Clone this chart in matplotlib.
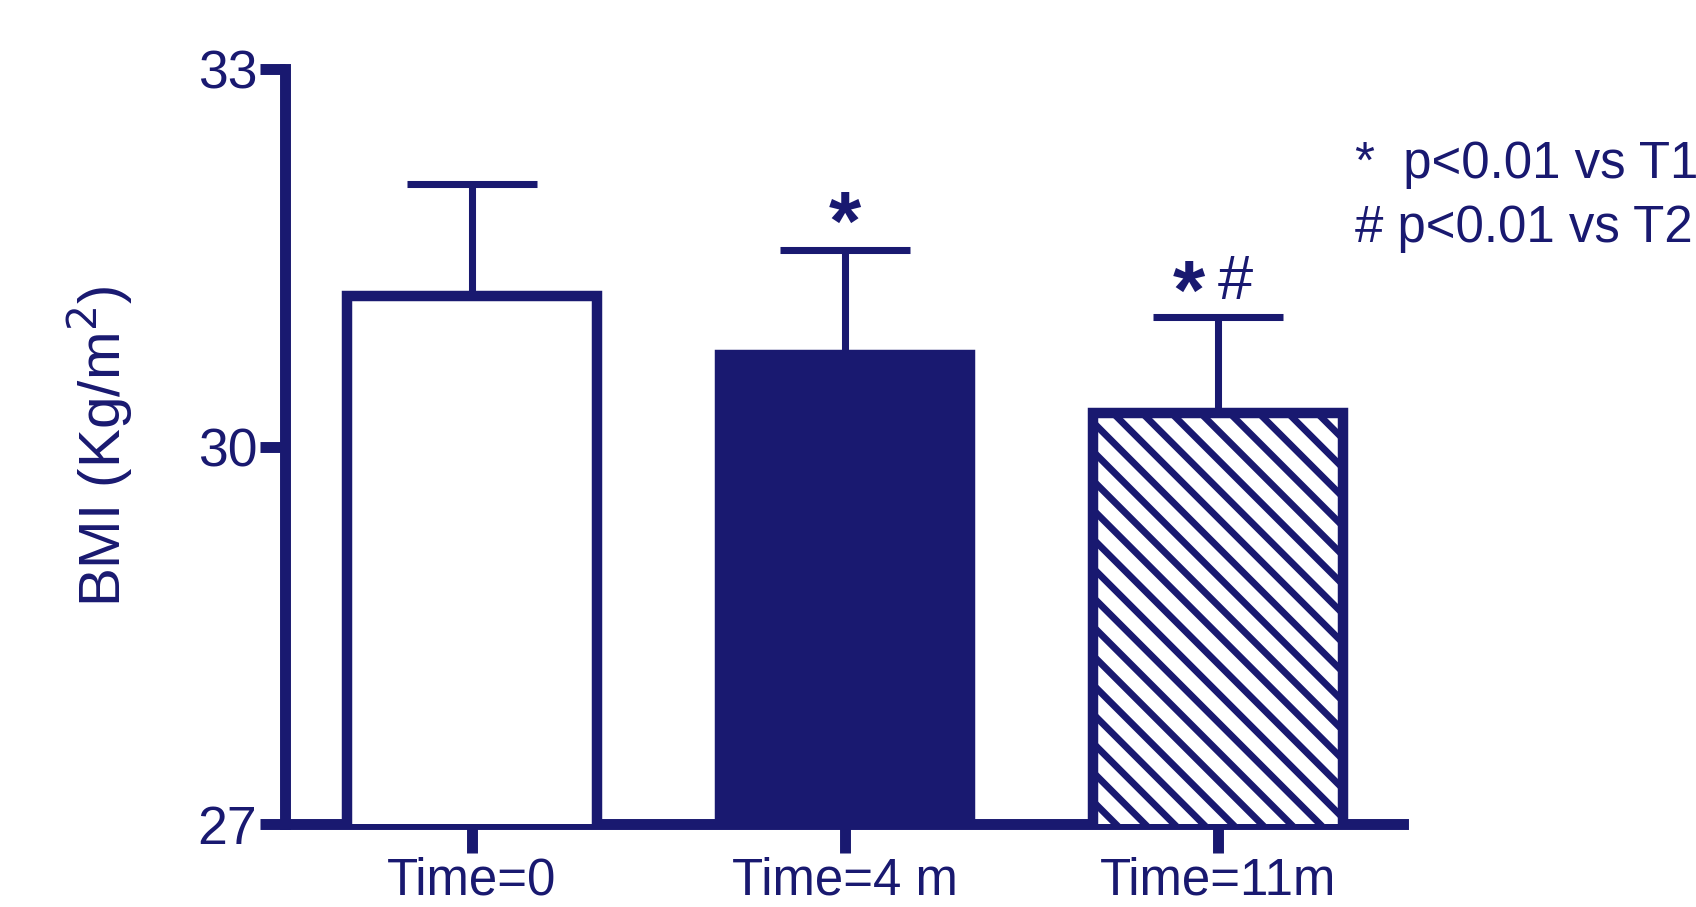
import matplotlib
matplotlib.use("Agg")
import matplotlib.pyplot as plt

# BMI over follow-up, mean + SEM
groups = ["Time=0", "Time=4 m", "Time=11m"]
bmi_mean = [31.20, 30.73, 30.27]
bmi_sem = [0.89, 0.83, 0.76]
marks = [("", ""), ("*", ""), ("*", "#")]
note_lines = ["*  p<0.01 vs T1", "# p<0.01 vs T2"]

navy = "#191970"
dpi = 175
plt.rcParams["font.family"] = ["Liberation Sans", "DejaVu Sans"]
plt.rcParams["hatch.linewidth"] = 2.8
plt.rcParams["hatch.color"] = navy

fig = plt.figure(figsize=(1696 / dpi, 907 / dpi), dpi=dpi)
ax = fig.add_axes([0.168, 0.0915, 0.8272 - 0.168, 0.9239 - 0.0915])

x = list(range(len(groups)))
faces = ["white", navy, "white"]
hatches = [None, None, "\\\\"]
bars = ax.bar(x, bmi_mean, width=0.67, color=faces, edgecolor=navy,
              linewidth=4.3, zorder=3)
for b, h in zip(bars, hatches):
    if h:
        b.set_hatch(h)

ax.errorbar(x, bmi_mean, yerr=[[0] * len(x), bmi_sem], fmt="none",
            ecolor=navy, elinewidth=2.9, capsize=26.7, capthick=2.9, zorder=2)

for xi, m, s, (star, hsh) in zip(x, bmi_mean, bmi_sem, marks):
    top = m + s
    if star and hsh:
        ax.annotate(star, (xi, top), xytext=(-12, -8), textcoords="offset points",
                    ha="center", va="bottom", fontsize=34, fontweight="bold",
                    color=navy)
        ax.annotate(hsh, (xi, top), xytext=(7, 2), textcoords="offset points",
                    ha="center", va="bottom", fontsize=26, color=navy)
    elif star:
        ax.annotate(star, (xi, top), xytext=(0, -7), textcoords="offset points",
                    ha="center", va="bottom", fontsize=34, fontweight="bold",
                    color=navy)

ax.set_ylim(27, 33)
ax.set_yticks([27, 30, 33])
ax.set_xlim(-0.501, 2.496)
ax.set_xticks(x)
ax.set_xticklabels(groups)
ax.set_ylabel("BMI (Kg/m$^2$)", fontsize=24, color=navy, labelpad=26)

for side in ["top", "right"]:
    ax.spines[side].set_visible(False)
for side in ["left", "bottom"]:
    ax.spines[side].set_color(navy)
    ax.spines[side].set_linewidth(4.5)
    ax.spines[side].set_capstyle("projecting")

ax.tick_params(axis="both", colors=navy, width=4.5)
ax.tick_params(axis="y", length=10.3, pad=1, labelsize=22)
ax.tick_params(axis="x", length=12, pad=1.5, labelsize=21)

for i, line in enumerate(note_lines):
    fig.text(1355 / 1696, 1 - (178 + 64 * i) / 907, line, fontsize=21,
             color=navy, ha="left", va="baseline")

fig.savefig("out.png", dpi=dpi, facecolor="white")
